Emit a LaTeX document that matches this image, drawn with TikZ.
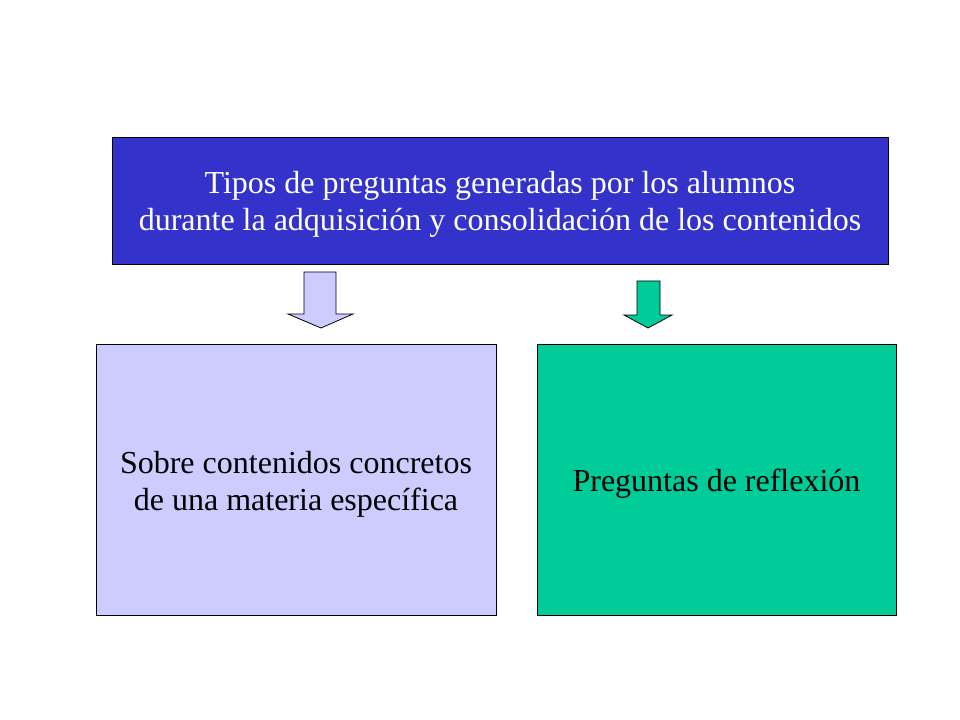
\documentclass[tikz,border=0pt]{standalone}
\usepackage{fontspec}
\setmainfont{Liberation Serif}
\definecolor{azul}{HTML}{3333CC}
\definecolor{lila}{HTML}{CCCCFF}
\definecolor{verde}{HTML}{00CC99}
\tikzset{
	caja/.style={draw=black, inner sep=0pt},
	texto/.style={inner sep=0pt, align=center, font=\fontsize{24}{27.5}\selectfont},
	flecha/.style={draw=black, line width=0.6pt}
}
\begin{document}
\begin{tikzpicture}[x=0.75pt,y=-0.75pt]
			\useasboundingbox (0,0) rectangle (960,720);
			\node[caja, fill=azul, minimum width=582pt, minimum height=95.25pt] (tipos) at (500,200.5) {};
			\node[caja, fill=lila, minimum width=300pt, minimum height=203.25pt] (sobre) at (296,479.5) {};
			\node[caja, fill=verde, minimum width=269.25pt, minimum height=203.25pt] (reflexion) at (716.5,479.5) {};
			\node[texto, text=white] (tipostxt) at ([yshift=-3pt]tipos.center) {Tipos de preguntas generadas por los alumnos\\ durante la adquisición y consolidación de los contenidos};
			\node[texto] (sobretxt) at ([yshift=-3.5pt]sobre.center) {Sobre contenidos concretos\\de una materia específica};
			\node[texto] (reflexiontxt) at ([yshift=-3.5pt]reflexion.center) {Preguntas de reflexión};
			\draw[flecha, fill=lila] (304,272) -- (336,272) -- (336,314) -- (353,314) -- (321,328) -- (288,314) -- (304,314) -- cycle;
			\draw[flecha, fill=verde] (637,281) -- (660,281) -- (660,315) -- (672,315) -- (648,328) -- (624,315) -- (637,315) -- cycle;
		\end{tikzpicture}
\end{document}
